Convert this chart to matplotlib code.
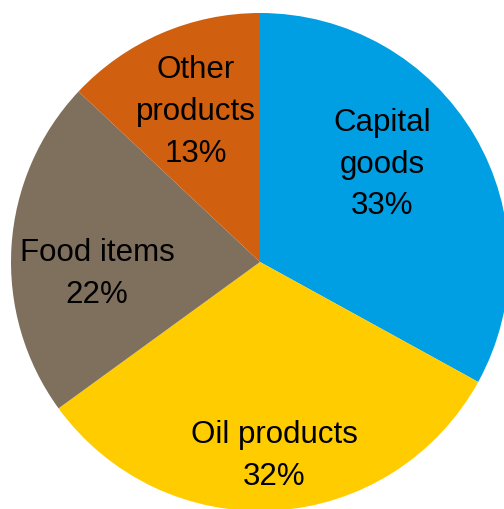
import matplotlib
matplotlib.use("Agg")
import matplotlib.pyplot as plt

categories = ["Capital\ngoods", "Oil products", "Food items", "Other\nproducts"]
shares = [33, 32, 22, 13]
colors = ["#009FE3", "#FFCC00", "#7F705D", "#D05F10"]

W, H = 504, 510
fig = plt.figure(figsize=(W / 100, H / 100), dpi=100)
ax = fig.add_axes([0, 0, 1, 1])

cx, cy, r = 260, H - 263, 249
wedges, _ = ax.pie(shares, colors=colors, startangle=90, counterclock=False,
                   center=(cx, cy), radius=r, frame=True,
                   wedgeprops=dict(linewidth=0))
ax.set_xlim(0, W)
ax.set_ylim(0, H)
ax.set_aspect("equal")
ax.axis("off")

label_pos = [(382, 165), (274, 456), (97, 274), (196, 112)]
for cat, s, (x, y) in zip(categories, shares, label_pos):
    ax.text(x, H - y, f"{cat}\n{s}%", ha="center", va="center",
            fontsize=22.5, linespacing=1.5, color="black",
            family=["Liberation Sans", "DejaVu Sans"])

fig.savefig("out.png", dpi=100)
